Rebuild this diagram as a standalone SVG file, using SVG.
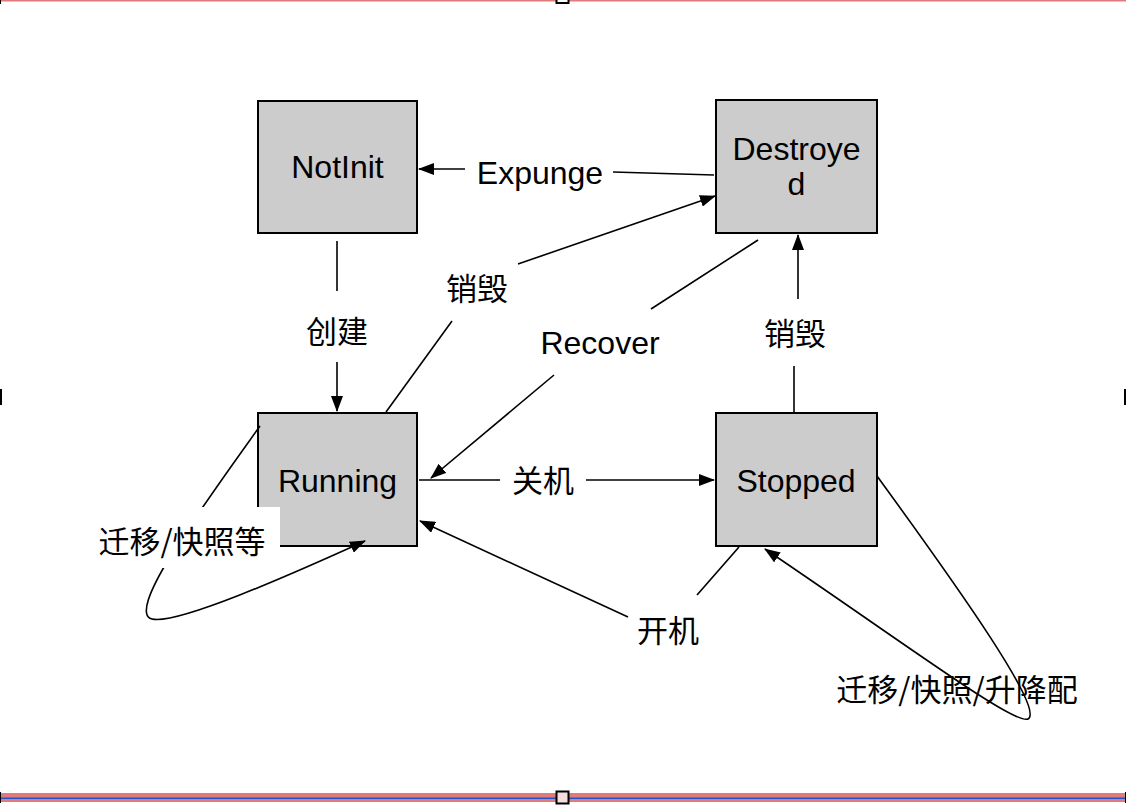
<svg xmlns="http://www.w3.org/2000/svg" width="1126" height="808" viewBox="0 0 1126 808">
<style>
.box{fill:#cccccc;stroke:#000;stroke-width:2}
.t{font-family:"Liberation Sans","Noto Sans CJK SC",sans-serif;font-size:32px;fill:#000;text-anchor:middle}
.c{font-family:"Noto Sans CJK SC","Liberation Sans",sans-serif;font-size:31px;fill:#000;text-anchor:middle}
.ln{fill:none;stroke:#000;stroke-width:1.6}
</style>
<defs>
<marker id="arr" markerWidth="16" markerHeight="12" refX="15" refY="6" orient="auto" markerUnits="userSpaceOnUse">
<path d="M0,0 L16,6 L0,12 z" fill="#000"/>
</marker>
</defs>
<rect x="0" y="0" width="1126" height="808" fill="#fff"/>
<g id="frame">
<rect x="0" y="0" width="1126" height="1.5" fill="#e07b7b"/>
<rect x="0" y="793" width="1126" height="9" fill="#e07b7b"/>
<rect x="0" y="797.5" width="1126" height="1.5" fill="#2255cc"/>
<rect x="556.5" y="-4" width="12" height="7" fill="#fff" stroke="#000" stroke-width="2"/>
<rect x="556.5" y="791.5" width="12" height="12" fill="#f6dede" stroke="#000" stroke-width="2"/>
<rect x="0" y="389" width="2" height="16" fill="#000"/>
<rect x="1124" y="389" width="2" height="16" fill="#000"/>
<rect x="0" y="0" width="1" height="4" fill="#000"/>
<rect x="0" y="792" width="1" height="11" fill="#000"/>
<rect x="1125" y="792" width="1" height="11" fill="#000"/>
</g>
<g id="connectors">
<path class="ln" d="M714,175 L613,172"/>
<path class="ln" d="M465,169 L419,169" marker-end="url(#arr)"/>
<path class="ln" d="M337,241 L337,291"/>
<path class="ln" d="M337,362 L337,411" marker-end="url(#arr)"/>
<path class="ln" d="M386,412 L452,321"/>
<path class="ln" d="M518,264 L715,196" marker-end="url(#arr)"/>
<path class="ln" d="M758,240 L651,309"/>
<path class="ln" d="M554,375 L431,478" marker-end="url(#arr)"/>
<path class="ln" d="M419,480 L500,480"/>
<path class="ln" d="M586,480 L714,480" marker-end="url(#arr)"/>
<path class="ln" d="M794,412 L794,366"/>
<path class="ln" d="M798,299 L798,235" marker-end="url(#arr)"/>
<path class="ln" d="M739,547 L697,595"/>
<path class="ln" d="M628,617 L420,521" marker-end="url(#arr)"/>
<path class="ln" d="M877,476 C960,590 1045,710 1028,719 C1015,726 900,640 765,549" marker-end="url(#arr)"/>
</g>
<g id="NotInit">
<rect class="box" x="258" y="101" width="159" height="132"/>
<text class="t" x="337.5" y="178">NotInit</text>
</g>
<g id="Destroyed">
<rect class="box" x="716" y="100" width="161" height="133"/>
<text class="t" x="796.5" y="160">Destroye</text>
<text class="t" x="796.5" y="195">d</text>
</g>
<g id="Running">
<rect class="box" x="258" y="413" width="159" height="133"/>
<text class="t" x="337.5" y="492">Running</text>
</g>
<g id="Stopped">
<rect class="box" x="716" y="413" width="161" height="133"/>
<text class="t" x="796" y="492">Stopped</text>
</g>
<g id="running-loop">
<path class="ln" d="M260,426 C200,510 125,612 152,619 C177,625 290,575 365,541" marker-end="url(#arr)"/>
<rect x="88" y="507" width="192" height="61" fill="#fff"/>
</g>
<g id="labels">
<text class="t" x="540" y="184">Expunge</text>
<text class="c" x="337" y="343">创建</text>
<text class="c" x="477" y="300">销毁</text>
<text class="t" x="600" y="354">Recover</text>
<text class="c" x="543" y="492">关机</text>
<text class="c" x="795" y="345">销毁</text>
<text class="c" x="668" y="642">开机</text>
<text class="c" x="182" y="553">迁移/快照等</text>
<text class="c" x="957" y="701">迁移/快照/升降配</text>
</g>
</svg>
